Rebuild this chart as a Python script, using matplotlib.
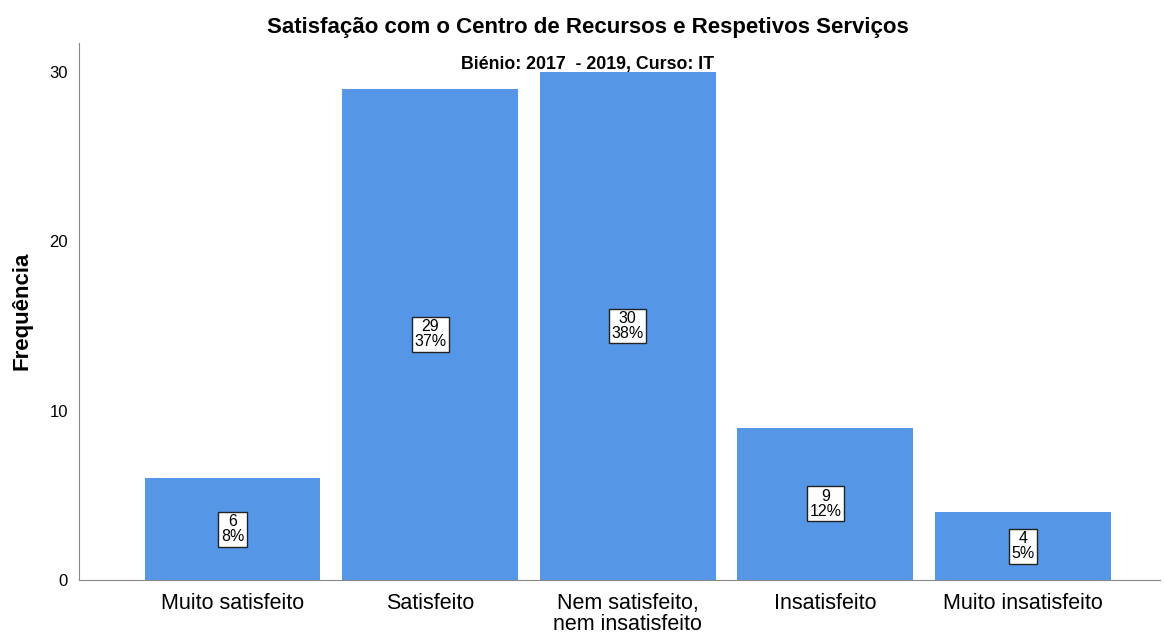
import numpy as np
import matplotlib
matplotlib.use("Agg")
import matplotlib.pyplot as plt

# -----------------------------
# DATA
# -----------------------------
categories = ["Muito satisfeito", "Satisfeito", "Nem satisfeito,\nnem insatisfeito",
              "Insatisfeito", "Muito insatisfeito"]
counts = [6, 29, 30, 9, 4]
percents = [8, 37, 38, 12, 5]

BAR_COLOR = "#5596e6"

plt.rcParams["font.family"] = ["Liberation Sans", "DejaVu Sans"]

fig = plt.figure(figsize=(11.64, 6.36), dpi=100)
ax = fig.add_axes([0.0679, 0.088, 0.9287, 0.844])

x = np.arange(len(categories))
ax.bar(x, counts, width=0.89, color=BAR_COLOR, zorder=2)

# value labels in the middle of each bar
for xi, c, p in zip(x, counts, percents):
    ax.text(xi, c / 2, f"{c}\n{p}%", ha="center", va="center", fontsize=11.5,
            linespacing=1.0,
            bbox=dict(boxstyle="square,pad=0.15", facecolor="white",
                      edgecolor="#222222", linewidth=1.0), zorder=3)

ax.set_xlim(-0.777, 4.694)
ax.set_ylim(0, 31.7)
ax.set_yticks([0, 10, 20, 30])
ax.set_xticks(x)
ax.set_xticklabels(categories, fontsize=15.5, linespacing=1.05)
ax.tick_params(axis="both", length=0)
ax.tick_params(axis="y", labelsize=12, pad=8)
ax.tick_params(axis="x", pad=9)

for side in ["top", "right"]:
    ax.spines[side].set_visible(False)
ax.spines["left"].set_color("#888888")
ax.spines["bottom"].set_color("#888888")

# y label placed on the figure so it is not clipped
fig.text(22 / 1164, 0.511, "Frequência", rotation=90, ha="center", va="center",
         fontsize=16, fontweight="bold")

fig.text(0.505, 0.957, "Satisfação com o Centro de Recursos e Respetivos Serviços",
         ha="center", va="center", fontsize=16, fontweight="bold")
fig.text(0.505, 0.899, "Biénio: 2017  - 2019, Curso: IT",
         ha="center", va="center", fontsize=12.8, fontweight="bold")

fig.savefig("out.png", dpi=100)
